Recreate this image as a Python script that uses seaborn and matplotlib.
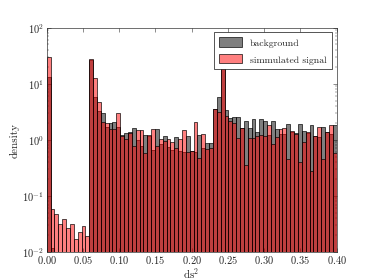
import numpy as np
import pandas as pd
import matplotlib
matplotlib.use("Agg")
import matplotlib.pyplot as plt
import seaborn as sns

# bin edges of the ds^2 histogram (75 bins over 0 - 0.4)
bin_edges = np.linspace(0.0, 0.4, 76)

# density per bin
background = [
    13, 0.012, 0, 0, 0, 0, 0, 0, 0, 0, 0,
    26, 5.9, 3.3, 3.0, 1.66,
    2.0, 2.1, 1.66, 1.22, 1.3, 1.39, 1.62, 0.99, 0.78, 1.21, 1.18, 0.66, 1.55, 0.84, 1.15,
    0.75, 0.66, 1.13, 0.64, 0.6, 1.15, 0.62, 0.6, 1.23, 0.71, 0.86, 0.87,
    3.5, 5.9, 28, 3.4,
    2.4, 2.5, 2.5, 1.62, 2.2, 1.62, 2.3, 1.4, 2.3, 2.2, 1.21, 2.2, 1.55, 1.25,
    1.26, 1.9, 1.35, 1.3, 1.9, 1.45, 1.3, 1.85, 1.18, 1.13, 1.71, 1.35, 1.26, 1.85,
]
signal = [
    30, 0.059, 0.048, 0.031, 0.039, 0.027, 0.031, 0.017, 0.023, 0.029, 0.019,
    27, 12.4, 4.8, 2.1, 1.96,
    1.55, 1.55, 2.95, 1.18, 1.05, 1.3, 0.78, 1.49, 1.49, 0.59, 1.22, 1.55, 0.78, 1.05, 0.96,
    1.05, 0.9, 0.71, 1.03, 1.5, 0.6, 0.62, 2.1, 0.48, 1.26, 0.69, 0.7,
    3.5, 3.1, 30, 2.6,
    2.2, 1.95, 1.06, 1.62, 0.35, 1.07, 1.06, 1.15, 1.21, 1.18, 1.85, 0.85, 1.1, 1.55,
    1.6, 0.45, 1.41, 1.26, 0.4, 0.93, 1.38, 0.28, 1.18, 1.71, 0.45, 1.35, 1.85, 0.59,
]
labels = ["background", "simmulated signal"]

sns.set_style("ticks")
plt.rcParams.update({
    "font.family": ["cmr10", "DejaVu Serif"],
    "mathtext.fontset": "cm",
    "axes.formatter.use_mathtext": True,
    "font.size": 16,
    "xtick.direction": "in",
    "ytick.direction": "in",
    "xtick.top": True,
    "ytick.right": True,
    "xtick.major.size": 6,
    "ytick.major.size": 6,
    "xtick.minor.size": 3,
    "ytick.minor.size": 3,
    "xtick.major.pad": 3,
    "ytick.major.pad": 4,
    "axes.linewidth": 1.0,
})

centers = 0.5 * (bin_edges[:-1] + bin_edges[1:])
df_bg = pd.DataFrame({"ds2": centers, "density": background})
df_sig = pd.DataFrame({"ds2": centers, "density": signal})

fig, ax = plt.subplots(figsize=(8, 6), dpi=46.75)
fig.subplots_adjust(left=0.125, right=0.9, bottom=0.1, top=0.9)

sns.histplot(data=df_bg, x="ds2", weights="density", bins=list(bin_edges),
             stat="count", color="k", alpha=0.5, edgecolor="k", linewidth=1.0,
             label=labels[0], ax=ax)
sns.histplot(data=df_sig, x="ds2", weights="density", bins=list(bin_edges),
             stat="count", color="r", alpha=0.5, edgecolor="k", linewidth=1.0,
             label=labels[1], ax=ax)

ax.set_yscale("log")
ax.set_xlim(0, 0.4)
ax.set_ylim(1e-2, 1e2)
ax.set_xlabel("ds$^2$", fontsize=17, labelpad=0)
ax.set_ylabel("density", fontsize=17)
ax.tick_params(which="both", top=True, right=True, labelsize=16)

leg = ax.legend(loc="upper right", fancybox=False, framealpha=1,
                edgecolor="k", fontsize=15, handlelength=2.4,
                handleheight=1.1, labelspacing=0.7, borderpad=0.5)
leg.set_zorder(10)

plt.savefig("out.png", dpi=46.75)
